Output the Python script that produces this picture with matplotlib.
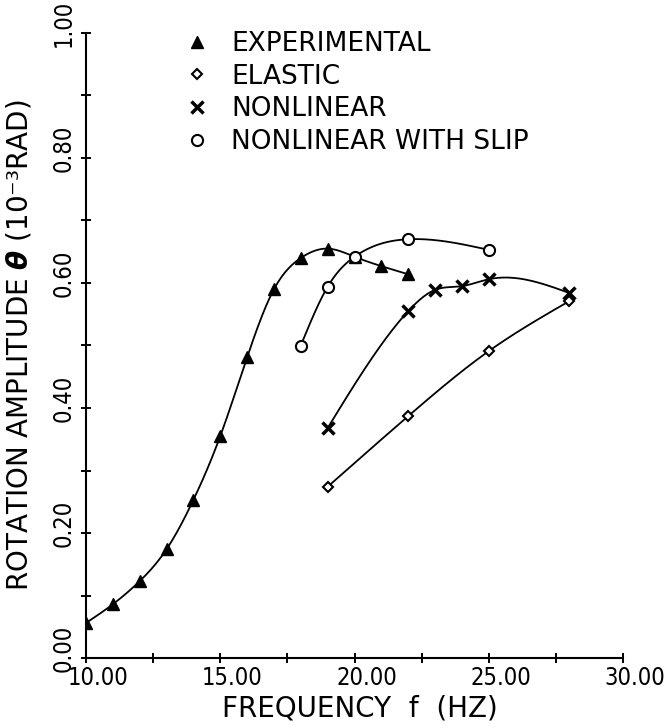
import numpy as np
import matplotlib
matplotlib.use("Agg")
import matplotlib.pyplot as plt
from matplotlib import font_manager
from matplotlib.lines import Line2D
from matplotlib.transforms import ScaledTranslation

freq_exp = [10, 11, 12, 13, 14, 15, 16, 17, 18, 19, 20, 21, 22]
amp_exp = [0.056, 0.086, 0.123, 0.174, 0.253, 0.355, 0.481, 0.590, 0.640, 0.655, 0.642, 0.627, 0.614]

freq_el = [19, 22, 25, 28]
amp_el = [0.274, 0.387, 0.491, 0.571]

freq_nl = [19, 22, 23, 24, 25, 28]
amp_nl = [0.368, 0.555, 0.589, 0.595, 0.606, 0.584]

freq_slip = [18, 19, 20, 22, 25]
amp_slip = [0.500, 0.594, 0.642, 0.670, 0.653]

labels = ["EXPERIMENTAL", "ELASTIC", "NONLINEAR", "NONLINEAR WITH SLIP"]
xticks = [10, 15, 20, 25, 30]
yticks = [0.0, 0.2, 0.4, 0.6, 0.8, 1.0]

# narrow font for the tick numbers, normal width for the words
names = {f.name for f in font_manager.fontManager.ttflist}
if "Liberation Sans Narrow" in names:
    tick_font = dict(family="Liberation Sans Narrow")
else:
    tick_font = dict(family="DejaVu Sans", stretch="condensed")
plt.rcParams["font.family"] = ["DejaVu Sans"]


def spline(x, y, n=200):
    # natural cubic spline, only for drawing the smooth curve
    x = np.asarray(x, float)
    y = np.asarray(y, float)
    k = len(x)
    h = np.diff(x)
    A = np.zeros((k, k))
    b = np.zeros(k)
    A[0, 0] = A[-1, -1] = 1
    for i in range(1, k - 1):
        A[i, i - 1] = h[i - 1]
        A[i, i] = 2 * (h[i - 1] + h[i])
        A[i, i + 1] = h[i]
        b[i] = 3 * ((y[i + 1] - y[i]) / h[i] - (y[i] - y[i - 1]) / h[i - 1])
    c = np.linalg.solve(A, b)
    xs = np.linspace(x[0], x[-1], n)
    idx = np.clip(np.searchsorted(x, xs) - 1, 0, k - 2)
    dx = xs - x[idx]
    bb = (y[idx + 1] - y[idx]) / h[idx] - h[idx] * (2 * c[idx] + c[idx + 1]) / 3
    dd = (c[idx + 1] - c[idx]) / (3 * h[idx])
    return xs, y[idx] + bb * dx + c[idx] * dx ** 2 + dd * dx ** 3


fig = plt.figure(figsize=(6.67, 7.28), dpi=100)
ax = fig.add_axes([86 / 667, 1 - 658 / 728, 537 / 667, 625 / 728])

lw = 1.3
series = [
    (freq_exp, amp_exp, dict(marker="^", ms=8.5, mfc="black", mec="black")),
    (freq_el, amp_el, dict(marker="D", ms=5, mfc="white", mec="black", mew=1.5)),
    (freq_nl, amp_nl, dict(marker="x", ms=8, mec="black", mew=2.5)),
    (freq_slip, amp_slip, dict(marker="o", ms=8, mfc="white", mec="black", mew=1.5)),
]
handles = []
for (fx, fy, mk), lab in zip(series, labels):
    xs, ys = spline(fx, fy)
    ax.plot(xs, ys, color="black", lw=lw, zorder=2)
    ax.plot(fx, fy, ls="none", zorder=3, **mk)
    handles.append(Line2D([], [], ls="none", **mk))

ax.set_xlim(10, 30)
ax.set_ylim(0, 1)
for s in ["top", "right"]:
    ax.spines[s].set_visible(False)
for s in ["left", "bottom"]:
    ax.spines[s].set_linewidth(1.5)

ax.set_xticks(xticks)
ax.set_xticks(np.arange(12.5, 30, 5), minor=True)
ax.set_yticks(yticks)
ax.set_yticks(np.arange(0.1, 1.0, 0.2), minor=True)
ax.set_xticklabels(["%.2f" % v for v in xticks], fontsize=17, **tick_font)
ax.set_yticklabels(["%.2f" % v for v in yticks], fontsize=17, rotation=90, va="center", **tick_font)
ax.tick_params(which="both", direction="inout", length=7, width=1.4, pad=2)
ax.tick_params(axis="y", which="both", pad=4)

# labels in the original sit a bit off their ticks
for t in ax.get_xticklabels():
    t.set_transform(t.get_transform() + ScaledTranslation(12 / 100, 0, fig.dpi_scale_trans))
for t in ax.get_yticklabels():
    t.set_transform(t.get_transform() + ScaledTranslation(0, 10 / 100, fig.dpi_scale_trans))

ax.set_xlabel("FREQUENCY  f  (HZ)", fontsize=20)
ax.xaxis.set_label_coords(0.51, -0.058)
ax.set_ylabel(r"ROTATION AMPLITUDE $\boldsymbol{\theta}$ (10⁻³RAD)", fontsize=20)
ax.yaxis.set_label_coords(-0.098, 0.5)

ax.legend(handles, labels, loc="upper left", bbox_to_anchor=(0.184, 1.003),
          frameon=False, fontsize=19, handlelength=0.9, handletextpad=0.85,
          borderpad=0, borderaxespad=0, labelspacing=0.25)

fig.savefig("out.png", dpi=100)
